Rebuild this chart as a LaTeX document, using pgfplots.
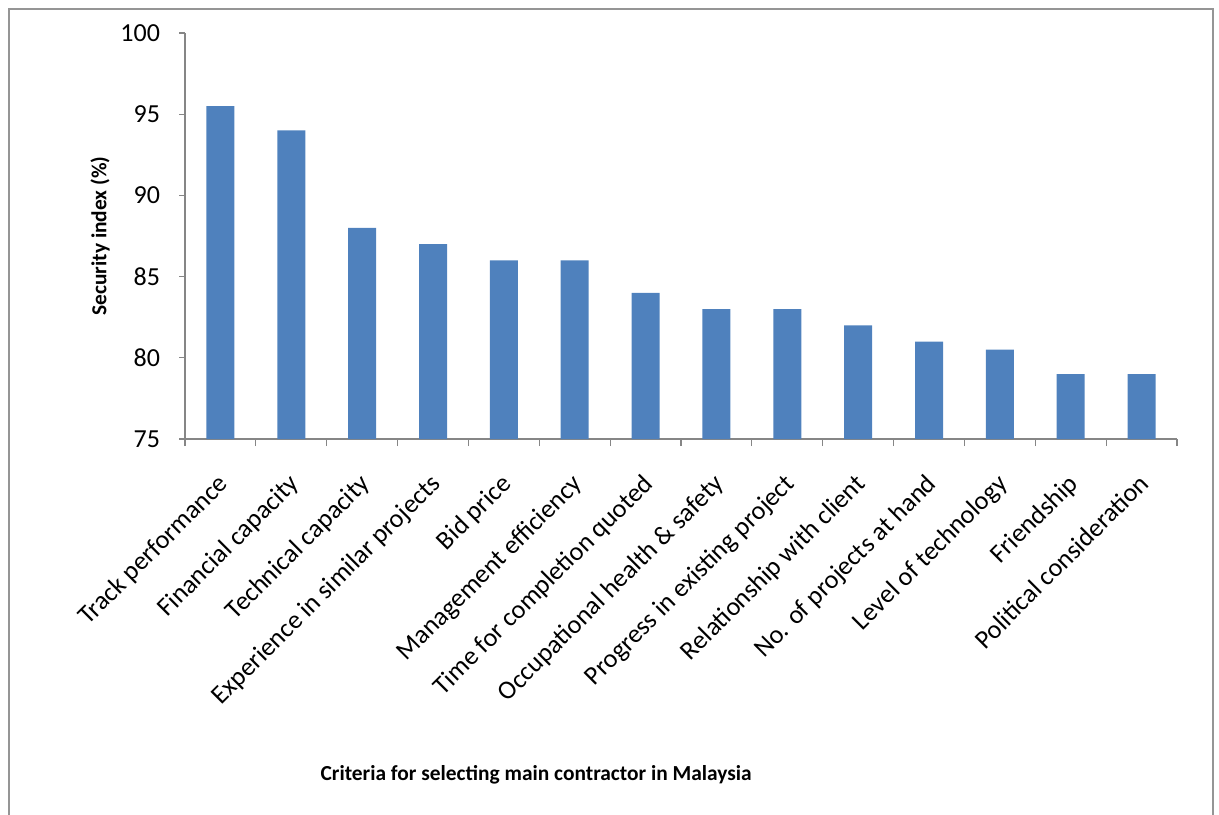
\documentclass[border=0pt]{standalone}
\usepackage{pgfplots}
\pgfplotsset{compat=1.18}
\usepackage{fontspec}
\setmainfont{Carlito}
\definecolor{barblue}{HTML}{4F81BD}
\definecolor{axgray}{HTML}{868686}
\definecolor{framegray}{HTML}{959595}
\begin{document}
\begin{tikzpicture}[x=1pt,y=1pt]
\useasboundingbox (0,0) rectangle (609.5,407);
\draw[framegray,line width=1pt] (4.5,-2) -- (4.5,402.5) -- (606.5,402.5) -- (606.5,-2);
\begin{axis}[
  at={(92.5pt,187.5pt)}, anchor=south west,
  scale only axis, width=496pt, height=203pt,
  ymin=75, ymax=100, ytick={75,80,...,100},
  xmin=0.5, xmax=14.5,
  xtick={1,...,14},
  xticklabels={Track performance,Financial capacity,Technical capacity,Experience in similar projects,Bid price,Management efficiency,Time for completion quoted,Occupational health \& safety,Progress in existing project,Relationship with client,No. of projects at hand,Level of technology,Friendship,Political consideration},
  major x tick style={draw=none},
  minor xtick={0.5,1.5,...,14.5},
  minor tick length=3.5pt,
  major tick length=3pt,
  tick align=outside,
  tick style={axgray, line width=0.6pt},
  axis x line*=bottom, axis y line*=left,
  axis line style={axgray, line width=0.6pt, -},
  x tick label style={rotate=45, anchor=north east, font=\fontsize{13.1}{15}\selectfont, inner sep=1pt, xshift=-10pt, yshift=-7pt},
  y tick label style={font=\fontsize{13}{15}\selectfont, xshift=-6pt},
  /pgf/number format/assume math mode=true,
  ylabel={\textbf{Security index (\%)}},
  ylabel style={at={(axis description cs:0,0.5)}, anchor=center, yshift=42.5pt, font=\fontsize{10.7}{12}\selectfont},
  xlabel={\textbf{Criteria for selecting main contractor in Malaysia}},
  xlabel style={at={(axis description cs:0.354,-0.828)}, anchor=center, font=\fontsize{10.7}{12}\selectfont},
  ybar, bar width=14pt,
  clip=false,
]
\addplot[fill=barblue, draw=none] coordinates {
(1,95.5) (2,94) (3,88) (4,87) (5,86) (6,86) (7,84) (8,83) (9,83) (10,82) (11,81) (12,80.5) (13,79) (14,79)};
\end{axis}
\end{tikzpicture}
\end{document}
